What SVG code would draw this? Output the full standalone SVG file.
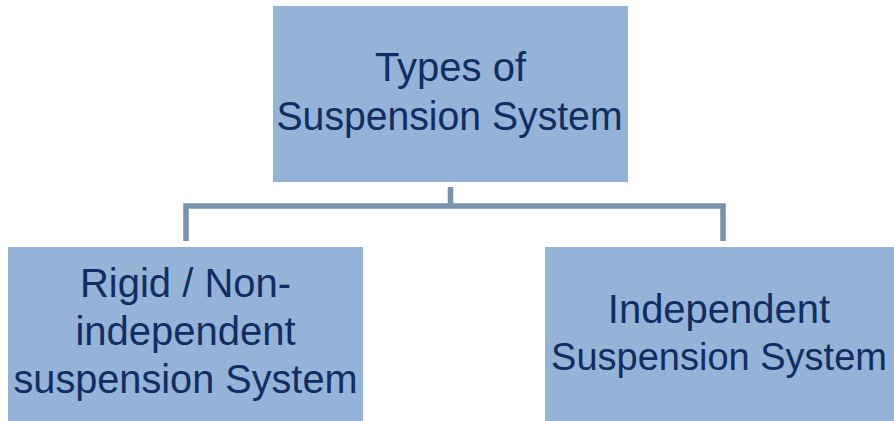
<svg xmlns="http://www.w3.org/2000/svg" width="894" height="421" viewBox="0 0 894 421">
<style>
.box{fill:#95B3D7;}
.lbl{font-family:"Liberation Sans",Arial,sans-serif;font-size:40px;fill:#102E62;text-anchor:middle;}
.conn{fill:none;stroke:#7893AD;stroke-width:5.5;stroke-linejoin:miter;stroke-linecap:butt;}
</style>
<rect width="894" height="421" fill="#FFFFFF"/>
<g id="connectors">
<path class="conn" d="M450.5 187 V206"/>
<path class="conn" d="M186 241 V206 H723 V241"/>
</g>
<g id="node-top">
<rect class="box" x="273" y="6" width="355" height="176"/>
<text class="lbl" x="450.5" y="81">Types of</text>
<text class="lbl" x="449.5" y="130" textLength="346" lengthAdjust="spacingAndGlyphs">Suspension System</text>
</g>
<g id="node-left">
<rect class="box" x="8" y="247" width="355" height="174"/>
<text class="lbl" x="185.5" y="297">Rigid / Non-</text>
<text class="lbl" x="185.5" y="345">independent</text>
<text class="lbl" x="185.5" y="393" textLength="344" lengthAdjust="spacingAndGlyphs">suspension System</text>
</g>
<g id="node-right">
<rect class="box" x="545" y="247" width="349" height="174"/>
<text class="lbl" x="719" y="323">Independent</text>
<text class="lbl" x="719" y="370" style="font-size:38px">Suspension System</text>
</g>
</svg>
